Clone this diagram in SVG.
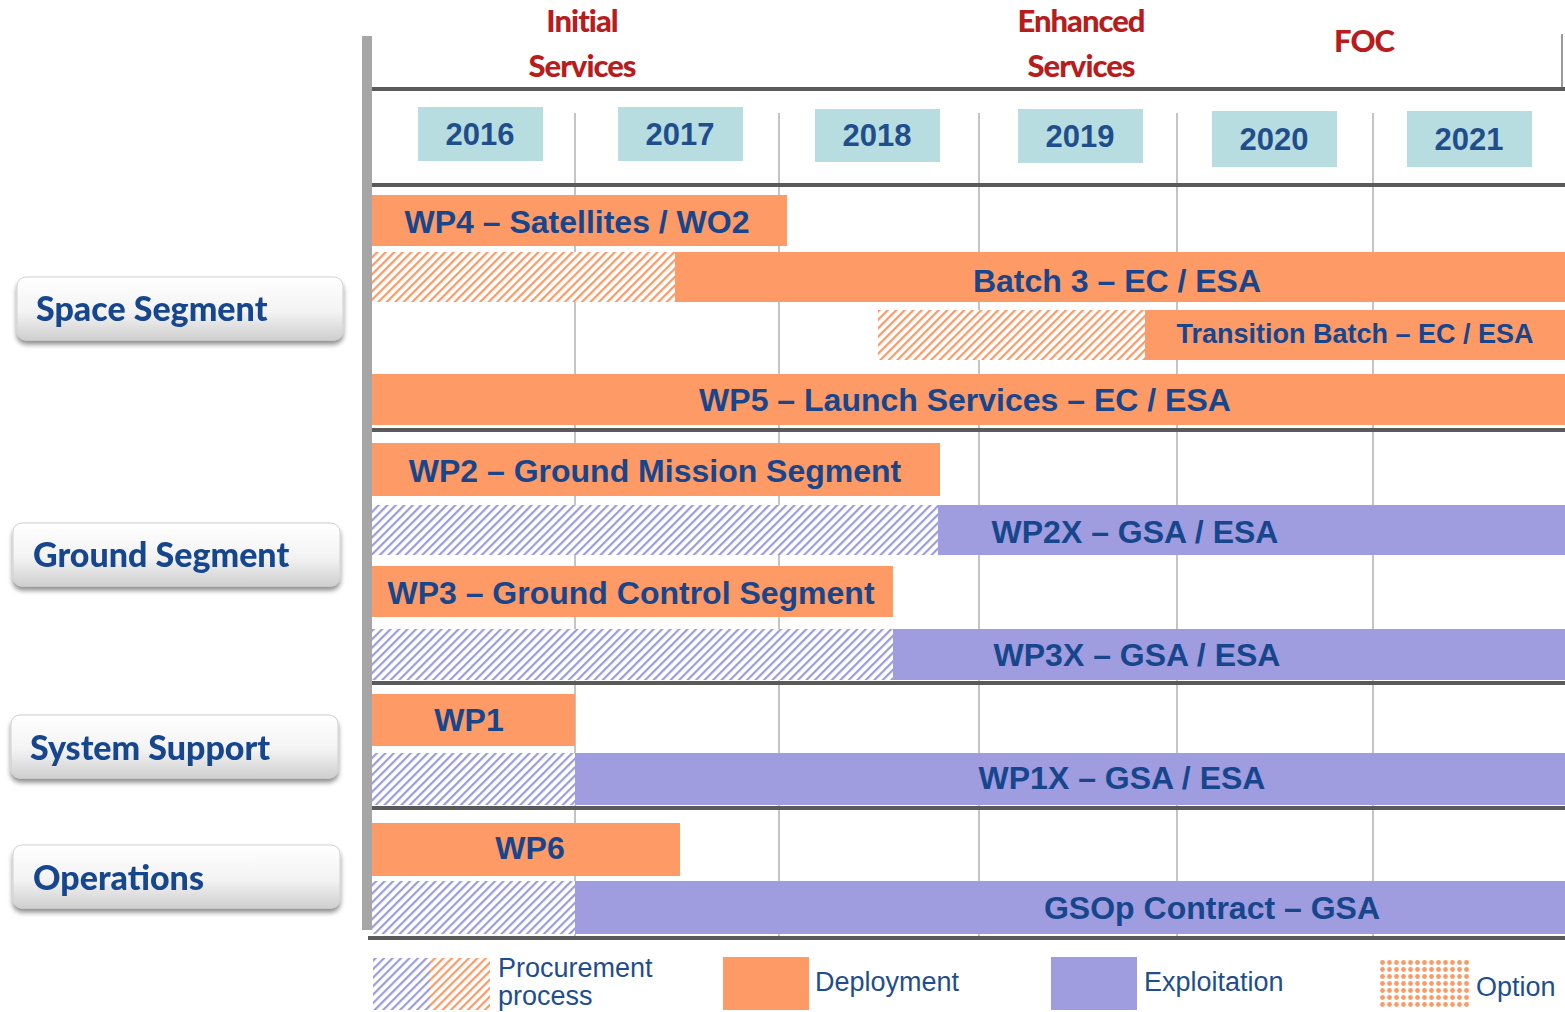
<svg xmlns="http://www.w3.org/2000/svg" width="1565" height="1012" viewBox="0 0 1565 1012">
<defs>
<pattern id="hatchO" width="6" height="6" patternUnits="userSpaceOnUse" patternTransform="rotate(45)">
<rect width="6" height="6" fill="#ffffff"/>
<rect x="0" y="0" width="2.2" height="6" fill="#fb9a66"/>
</pattern>
<pattern id="hatchP" width="6" height="6" patternUnits="userSpaceOnUse" patternTransform="rotate(45)">
<rect width="6" height="6" fill="#ffffff"/>
<rect x="0" y="0" width="2.2" height="6" fill="#9c9cdc"/>
</pattern>
<pattern id="dots" width="7" height="7" patternUnits="userSpaceOnUse">
<rect width="7" height="7" fill="#ffffff"/>
<circle cx="3.5" cy="3.5" r="2.4" fill="#fb9a66"/>
</pattern>
<linearGradient id="btn" x1="0" y1="0" x2="0" y2="1">
<stop offset="0" stop-color="#ffffff"/>
<stop offset="0.55" stop-color="#f3f3f3"/>
<stop offset="1" stop-color="#cfcfcf"/>
</linearGradient>
<filter id="shadow" x="-10%" y="-20%" width="120%" height="160%">
<feGaussianBlur in="SourceAlpha" stdDeviation="2.5"/>
<feOffset dx="0" dy="4" result="o"/>
<feComponentTransfer><feFuncA type="linear" slope="0.45"/></feComponentTransfer>
<feMerge><feMergeNode/><feMergeNode in="SourceGraphic"/></feMerge>
</filter>
</defs>
<style>
.hdr{font-family:"Lato","Liberation Sans",sans-serif;font-weight:900;font-size:31px;fill:#b81c1c;text-anchor:middle;letter-spacing:-1px}
.yr{fill:#b8dde1}
.yrt{font-family:"Liberation Sans",Arial,sans-serif;font-weight:700;font-size:31px;fill:#1f4e8c;text-anchor:middle}
.dep{fill:#fd9a66}
.exp{fill:#9f9de0}
.bt{font-family:"Liberation Sans",Arial,sans-serif;font-weight:700;font-size:32px;fill:#17468c;text-anchor:middle}
.grid{stroke:#c4c4c4;stroke-width:2}
.sep{stroke:#5a5a5a;stroke-width:4}
.btnr{fill:url(#btn);stroke:#d0d0d0;stroke-width:1}
.btnt{font-family:"Lato","Liberation Sans",sans-serif;font-weight:900;font-size:34px;fill:#16478e}
.lg{font-family:"Liberation Sans",Arial,sans-serif;font-size:27px;fill:#1f4e8c}
</style>
<rect width="1565" height="1012" fill="#ffffff"/>

<!-- header texts -->
<g id="phases">
<text class="hdr" x="582" y="32">Initial</text>
<text class="hdr" x="582" y="77">Services</text>
<text class="hdr" x="1081" y="32">Enhanced</text>
<text class="hdr" x="1081" y="77">Services</text>
<text class="hdr" x="1364" y="52">FOC</text>
</g>

<!-- grid -->
<g id="grid">
<line class="grid" x1="575" y1="113" x2="575" y2="938"/>
<line class="grid" x1="779" y1="113" x2="779" y2="938"/>
<line class="grid" x1="979" y1="113" x2="979" y2="938"/>
<line class="grid" x1="1177" y1="113" x2="1177" y2="938"/>
<line class="grid" x1="1373" y1="113" x2="1373" y2="938"/>
<line stroke="#9a9a9a" stroke-width="2" x1="1562" y1="34" x2="1562" y2="90"/>
</g>

<!-- years -->
<g id="years">
<rect class="yr" x="418" y="107" width="125" height="54"/><text class="yrt" x="480" y="145">2016</text>
<rect class="yr" x="618" y="107" width="125" height="54"/><text class="yrt" x="680" y="145">2017</text>
<rect class="yr" x="815" y="109" width="125" height="53"/><text class="yrt" x="877" y="146">2018</text>
<rect class="yr" x="1018" y="109" width="125" height="54"/><text class="yrt" x="1080" y="147">2019</text>
<rect class="yr" x="1212" y="111" width="125" height="56"/><text class="yrt" x="1274" y="150">2020</text>
<rect class="yr" x="1407" y="111" width="125" height="56"/><text class="yrt" x="1469" y="150">2021</text>
</g>

<!-- bars -->
<g id="bar-wp4"><rect class="dep" x="372" y="195" width="415" height="51"/><text class="bt" x="577" y="233">WP4 – Satellites / WO2</text></g>
<g id="bar-batch3"><rect fill="url(#hatchO)" x="372" y="252" width="303" height="50"/><rect class="dep" x="675" y="252" width="890" height="50"/><text class="bt" x="1117" y="292">Batch 3 – EC / ESA</text></g>
<g id="bar-transition"><rect fill="url(#hatchO)" x="878" y="310" width="267" height="50"/><rect class="dep" x="1145" y="310" width="420" height="50"/><text class="bt" x="1355" y="343" style="font-size:27px">Transition Batch – EC / ESA</text></g>
<g id="bar-wp5"><rect class="dep" x="372" y="374" width="1193" height="51"/><text class="bt" x="965" y="411">WP5 – Launch Services – EC / ESA</text></g>
<g id="bar-wp2"><rect class="dep" x="372" y="443" width="568" height="53"/><text class="bt" x="655" y="482">WP2 – Ground Mission Segment</text></g>
<g id="bar-wp2x"><rect fill="url(#hatchP)" x="372" y="505" width="566" height="50"/><rect class="exp" x="938" y="505" width="627" height="50"/><text class="bt" x="1135" y="543">WP2X – GSA / ESA</text></g>
<g id="bar-wp3"><rect class="dep" x="370" y="566" width="523" height="51"/><text class="bt" x="631" y="604">WP3 – Ground Control Segment</text></g>
<g id="bar-wp3x"><rect fill="url(#hatchP)" x="372" y="629" width="521" height="51"/><rect class="exp" x="893" y="629" width="672" height="51"/><text class="bt" x="1137" y="666">WP3X – GSA / ESA</text></g>
<g id="bar-wp1"><rect class="dep" x="372" y="694" width="203" height="52"/><text class="bt" x="469" y="731">WP1</text></g>
<g id="bar-wp1x"><rect fill="url(#hatchP)" x="372" y="753" width="203" height="52"/><rect class="exp" x="575" y="753" width="990" height="52"/><text class="bt" x="1122" y="789">WP1X – GSA / ESA</text></g>
<g id="bar-wp6"><rect class="dep" x="370" y="823" width="310" height="53"/><text class="bt" x="530" y="859">WP6</text></g>
<g id="bar-gsop"><rect fill="url(#hatchP)" x="372" y="881" width="203" height="53"/><rect class="exp" x="575" y="881" width="990" height="53"/><text class="bt" x="1212" y="919">GSOp Contract – GSA</text></g>

<!-- separators -->
<g id="separators">
<line class="sep" x1="372" y1="89" x2="1565" y2="89"/>
<line class="sep" x1="372" y1="185" x2="1565" y2="185"/>
<line class="sep" x1="372" y1="430" x2="1565" y2="430"/>
<line class="sep" x1="372" y1="683" x2="1565" y2="683"/>
<line class="sep" x1="372" y1="808" x2="1565" y2="808"/>
<line class="sep" x1="368" y1="938" x2="1565" y2="938"/>
<rect x="362" y="36" width="10" height="894" fill="#a6a6a6"/>
</g>

<!-- segment buttons -->
<g id="btn-space" filter="url(#shadow)"><rect class="btnr" x="17" y="277" width="326" height="63" rx="9"/><text class="btnt" x="36" y="321">Space Segment</text></g>
<g id="btn-ground" filter="url(#shadow)"><rect class="btnr" x="13" y="523" width="327" height="63" rx="9"/><text class="btnt" x="33" y="567">Ground Segment</text></g>
<g id="btn-support" filter="url(#shadow)"><rect class="btnr" x="11" y="715" width="327" height="63" rx="9"/><text class="btnt" x="30" y="760">System Support</text></g>
<g id="btn-ops" filter="url(#shadow)"><rect class="btnr" x="13" y="845" width="327" height="63" rx="9"/><text class="btnt" x="33" y="890">Operations</text></g>

<!-- legend -->
<g id="legend">
<rect fill="url(#hatchP)" x="373" y="958" width="57" height="52"/>
<rect fill="url(#hatchO)" x="430" y="958" width="60" height="52"/>
<text class="lg" x="498" y="977">Procurement</text>
<text class="lg" x="498" y="1005">process</text>
<rect class="dep" x="723" y="957" width="86" height="53"/>
<text class="lg" x="815" y="991">Deployment</text>
<rect class="exp" x="1051" y="957" width="86" height="53"/>
<text class="lg" x="1144" y="991">Exploitation</text>
<rect fill="url(#dots)" x="1378" y="958" width="92" height="50"/>
<text class="lg" x="1476" y="996">Option</text>
</g>
</svg>
